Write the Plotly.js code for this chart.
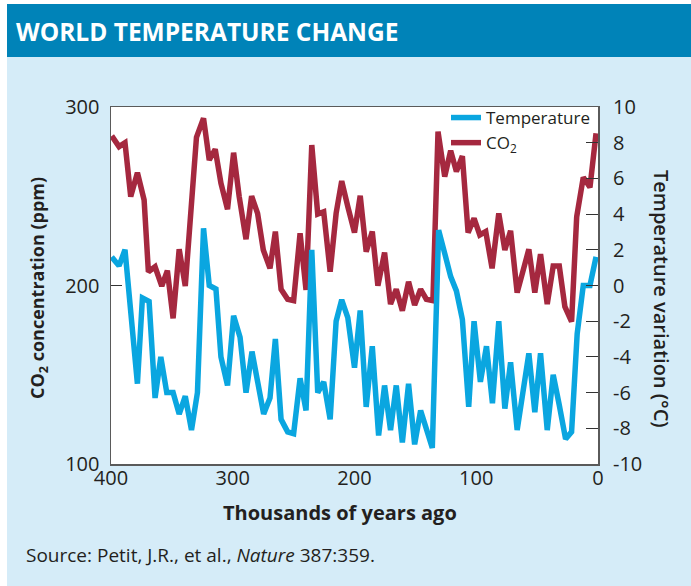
<!DOCTYPE html>
<html>
<head>
<meta charset="utf-8">
<script src="https://cdn.plot.ly/plotly-3.0.1.min.js"></script>
<style>html,body{margin:0;padding:0;background:#fff;}#chart{width:691px;height:586px;}</style>
</head>
<body>
<div id="chart"></div>
<script>
// CO2 concentration (ppm) vs thousands of years ago
var co2Years = [399.4,393.4,388.5,383.8,378.3,372.8,369.3,363.8,358.3,353.7,349,344,339,334.4,329.8,324,319.3,314.4,309.7,304.3,299.3,294.7,289.1,284.5,279.6,274.9,269.4,265,260.3,254.9,250,244.7,239.8,235.1,230.2,225.3,220,215.1,210.5,205.5,200,195.3,190.4,185.4,180.8,175.3,170.4,165.7,160.7,155.6,150.6,145.7,141,135.6,131.4,125.9,121,116.3,111.4,106.7,101.8,97.1,92.2,87,81.5,76.5,71.8,66.4,61.5,56.8,51.9,47.2,41.7,36.8,31.8,27.2,21.7,17.5,12.1,6.6,1.6];
var co2Values = [283.8,277.8,280,249.8,263.2,247.9,207.7,210.5,199.7,208.3,181.6,220.3,199.7,242.3,283,293.7,270.3,276.3,257.3,242.7,274.4,249.8,225.9,250.1,240.4,219.9,209.6,230.2,197.9,192.3,191.5,229.3,197.5,278.7,240,241.3,207.7,240.4,258.5,244.2,229.6,250.3,218.9,230.2,199.9,218.4,189.6,197.9,185.9,202.1,189.1,197.9,192.3,191.5,286.2,261,275.5,263.8,272.5,229.6,237.6,228.3,230.2,209.6,240.4,219.9,230.7,196,207.7,220.3,196,217.6,189.6,210.9,210.9,188.1,179.7,238.5,260.6,255,285.3];

// Temperature variation (°C) vs thousands of years ago
var tempYears = [399.4,393.4,388.5,378.3,374.2,368.7,363.8,359.1,354.2,349,344,339,333.9,329,324,319.3,313.8,309.7,304.3,299.3,294,289.1,284.2,279.6,274.6,269.4,265,260.3,254.9,250,244.7,239.8,235.1,230.2,225.3,220,215.1,210.5,205.5,200,195.3,190.4,185.4,180.2,175.3,170.4,165.7,160.7,155.6,150.6,145.7,136.1,130.9,125.9,121,116.3,111.4,106.2,101.8,96.6,91.6,86.7,81.5,76.5,71.8,66.4,61.5,56.8,51.9,47.2,41.7,36.8,31.8,26.6,21.7,17.1,12.1,6.6,1.6];
var tempValues = [1.6,1.1,2.0,-5.5,-0.7,-0.9,-6.3,-4.0,-6.0,-6.0,-7.2,-6.2,-8.1,-6.0,3.2,0.0,-0.2,-4.0,-5.6,-1.7,-2.9,-6.0,-3.7,-5.3,-7.2,-6.3,-3.0,-7.5,-8.2,-8.3,-5.2,-7.0,2.0,-6.0,-5.4,-7.5,-2.0,-0.8,-1.8,-4.6,-1.4,-6.8,-3.4,-8.4,-5.6,-8.1,-5.6,-8.8,-5.5,-8.9,-7.0,-9.1,3.1,1.8,0.5,-0.3,-1.9,-6.8,-2.0,-5.4,-3.4,-6.6,-2.0,-6.9,-4.3,-8.1,-6.0,-3.8,-7.1,-3.8,-8.1,-5.0,-6.7,-8.6,-8.2,-2.7,0.0,0.0,1.6];

var xTicks = [400,300,200,100,0];
var co2Ticks = [100,200,300];
var tempTicks = [-10,-8,-6,-4,-2,0,2,4,6,8,10];

var FONT = "'Open Sans', 'Noto Sans', sans-serif";
var INK = '#231f20';
var BLUE = '#0aa6e0';
var RED = '#a5283f';

var traces = [
  {x: tempYears, y: tempValues, yaxis: 'y2', type: 'scatter', mode: 'lines', name: 'Temperature',
   line: {color: BLUE, width: 5.5, shape: 'linear'}},
  {x: co2Years, y: co2Values, yaxis: 'y', type: 'scatter', mode: 'lines', name: 'CO<sub>2</sub>',
   line: {color: RED, width: 5.5, shape: 'linear'}}
];

// px -> paper helpers (plot area: x 111..598, y 107..464)
function px(v){ return (v - 111) / 487; }
function py(v){ return (464 - v) / 357; }

var layout = {
  width: 691, height: 586,
  margin: {l: 111, r: 93, t: 107, b: 122, pad: 0},
  paper_bgcolor: '#d5ecf8',
  plot_bgcolor: '#ffffff',
  font: {family: FONT, color: INK, size: 20},
  showlegend: true,
  legend: {x: px(446), y: py(100), xanchor: 'left', yanchor: 'top', bgcolor: 'rgba(0,0,0,0)',
           font: {family: FONT, size: 17, color: INK}, tracegroupgap: 0, itemwidth: 30},
  xaxis: {range: [400, 0], tickvals: xTicks, ticktext: xTicks.map(String), ticks: '', showgrid: false,
          zeroline: false, showline: true, mirror: true, linecolor: '#5a5a5a', linewidth: 1.5,
          tickfont: {family: FONT, size: 20, color: INK}, ticklabelstandoff: -5, fixedrange: true},
  yaxis: {range: [100, 300], tickvals: co2Ticks, ticktext: co2Ticks.map(String), ticks: 'inside', ticklen: 11,
          tickcolor: '#333', tickwidth: 1.2, showgrid: false, zeroline: false, showline: true, mirror: true,
          linecolor: '#5a5a5a', linewidth: 1.5, tickfont: {family: FONT, size: 20, color: INK},
          ticklabelstandoff: 6, fixedrange: true},
  yaxis2: {range: [-10, 10], overlaying: 'y', side: 'right', tickvals: tempTicks, ticktext: tempTicks.map(String),
           ticks: 'inside', ticklen: 12, tickcolor: '#333', tickwidth: 1.2, showgrid: false, zeroline: false,
           showline: false, tickfont: {family: FONT, size: 20, color: INK}, ticklabelstandoff: 14, fixedrange: true},
  shapes: [
    {type: 'rect', xref: 'paper', yref: 'paper', x0: px(0), x1: px(7), y0: py(600), y1: py(-10),
     fillcolor: '#ffffff', line: {width: 0}},
    {type: 'rect', xref: 'paper', yref: 'paper', x0: px(0), x1: px(700), y0: py(4), y1: py(-10),
     fillcolor: '#ffffff', line: {width: 0}},
    {type: 'rect', xref: 'paper', yref: 'paper', x0: px(7), x1: px(700), y0: py(57), y1: py(4),
     fillcolor: '#0083b8', line: {width: 0}}
  ],
  annotations: [
    {text: '<b>WORLD TEMPERATURE CHANGE</b>', xref: 'paper', yref: 'paper', x: px(14), y: py(31),
     xanchor: 'left', yanchor: 'middle', showarrow: false, font: {family: FONT, size: 24.5, color: '#ffffff'}},
    {text: '<b>CO<sub>2</sub> concentration (ppm)</b>', xref: 'paper', yref: 'paper', x: px(38), y: py(288),
     xanchor: 'center', yanchor: 'middle', textangle: -90, showarrow: false, font: {family: FONT, size: 18, color: INK}},
    {text: 'Temperature variation (°C)', xref: 'paper', yref: 'paper', x: px(662), y: py(299),
     xanchor: 'center', yanchor: 'middle', textangle: 90, showarrow: false, font: {family: FONT, size: 20, color: INK, weight: 600}},
    {text: '<b>Thousands of years ago</b>', xref: 'paper', yref: 'paper', x: px(340), y: py(512),
     xanchor: 'center', yanchor: 'middle', showarrow: false, font: {family: FONT, size: 20, color: INK}},
    {text: 'Source: Petit, J.R., et al., <i>Nature</i> 387:359.', xref: 'paper', yref: 'paper', x: px(24), y: py(555),
     xanchor: 'left', yanchor: 'middle', showarrow: false, font: {family: FONT, size: 19, color: INK}}
  ]
};

Plotly.newPlot('chart', traces, layout, {displayModeBar: false, staticPlot: true});
</script>
</body>
</html>
